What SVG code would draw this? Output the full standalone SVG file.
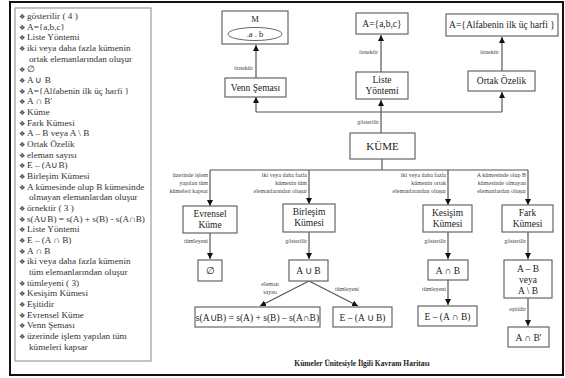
<svg xmlns="http://www.w3.org/2000/svg" width="565" height="378" viewBox="0 0 565 378">
<defs>
<marker id="ah" markerWidth="6" markerHeight="6" refX="6" refY="3" orient="auto" markerUnits="userSpaceOnUse">
<path d="M0,0 L6,3 L0,6 z" fill="#111"/>
</marker>
<style>
.box{fill:#fff;stroke:#666;stroke-width:1.2}
.t{font-family:"Liberation Serif","Times New Roman",serif;font-size:9.5px;fill:#222;text-anchor:middle}
.lg{font-family:"Liberation Serif","Times New Roman",serif;font-size:9.2px;fill:#333}
.b{font-family:"DejaVu Sans",sans-serif;font-size:7px;fill:#444}
.lb{font-family:"Liberation Serif","Times New Roman",serif;font-size:6px;fill:#444;text-anchor:end}
.c{fill:none;stroke:#555;stroke-width:1.2}
.ca{fill:none;stroke:#555;stroke-width:1.2;marker-end:url(#ah)}
</style>
</defs>
<rect width="565" height="378" fill="#fff"/>
<rect x="10" y="2" width="553" height="373" fill="none" stroke="#111" stroke-width="2"/>

<g id="legend">
<rect x="15" y="8" width="136" height="353" fill="#fff" stroke="#888" stroke-width="1"/>
<g class="b">
<text x="19" y="19">❖</text><text x="19" y="30">❖</text><text x="19" y="40">❖</text><text x="19" y="51">❖</text>
<text x="19" y="72">❖</text><text x="19" y="83">❖</text><text x="19" y="94">❖</text><text x="19" y="104">❖</text>
<text x="19" y="115">❖</text><text x="19" y="126">❖</text><text x="19" y="136">❖</text><text x="19" y="147">❖</text>
<text x="19" y="158">❖</text><text x="19" y="168">❖</text><text x="19" y="179">❖</text><text x="19" y="190">❖</text>
<text x="19" y="211">❖</text><text x="19" y="222">❖</text><text x="19" y="232">❖</text><text x="19" y="243">❖</text>
<text x="19" y="254">❖</text><text x="19" y="264">❖</text><text x="19" y="286">❖</text><text x="19" y="296">❖</text>
<text x="19" y="307">❖</text><text x="19" y="318">❖</text><text x="19" y="328">❖</text><text x="19" y="339">❖</text>
</g>
<g class="lg">
<text x="27" y="19">gösterilir ( 4 )</text>
<text x="27" y="30">A={a,b,c}</text>
<text x="27" y="40">Liste Yöntemi</text>
<text x="27" y="51">iki veya daha fazla kümenin</text>
<text x="29" y="62">ortak elemanlarından oluşur</text>
<text x="27" y="72">∅</text>
<text x="27" y="83">A ∪ B</text>
<text x="27" y="94">A={Alfabenin ilk üç harfi }</text>
<text x="27" y="104">A ∩ B'</text>
<text x="27" y="115">Küme</text>
<text x="27" y="126">Fark Kümesi</text>
<text x="27" y="136">A – B veya A \ B</text>
<text x="27" y="147">Ortak Özelik</text>
<text x="27" y="158">eleman sayısı</text>
<text x="27" y="168">E – (A∪B)</text>
<text x="27" y="179">Birleşim Kümesi</text>
<text x="27" y="190">A kümesinde olup B kümesinde</text>
<text x="29" y="200">olmayan elemanlardan oluşur</text>
<text x="27" y="211">örnektir ( 3 )</text>
<text x="27" y="222">s(A∪B) = s(A) + s(B) - s(A∩B)</text>
<text x="27" y="232">Liste Yöntemi</text>
<text x="27" y="243">E –  (A ∩ B)</text>
<text x="27" y="254">A ∩ B</text>
<text x="27" y="264">iki veya daha fazla kümenin</text>
<text x="29" y="275">tüm elemanlarından oluşur</text>
<text x="27" y="286">tümleyeni ( 3)</text>
<text x="27" y="296">Kesişim Kümesi</text>
<text x="27" y="307">Eşitidir</text>
<text x="27" y="318">Evrensel Küme</text>
<text x="27" y="328">Venn Şeması</text>
<text x="27" y="339">üzerinde işlem yapılan  tüm</text>
<text x="29" y="350">kümeleri kapsar</text>
</g>
</g>

<g id="connectors">
<path class="ca" d="M256,78 V45"/>
<path class="ca" d="M381,72 V35"/>
<path class="ca" d="M502,71 V37"/>
<path class="c" d="M256,112 H502"/>
<path class="ca" d="M256,112 V97"/>
<path class="ca" d="M381,133 V100"/>
<path class="ca" d="M502,112 V92"/>
<path class="c" d="M382,159 V170 M210,170 H528"/>
<path class="ca" d="M210,170 V206"/>
<path class="ca" d="M309,170 V204"/>
<path class="ca" d="M448,170 V205"/>
<path class="ca" d="M528,170 V205"/>
<path class="ca" d="M210,233 V259"/>
<path class="ca" d="M309,232 V259"/>
<path class="ca" d="M448,232 V259"/>
<path class="ca" d="M528,232 V259"/>
<path class="ca" d="M309,281 L260,306"/>
<path class="ca" d="M309,281 L358,306"/>
<path class="ca" d="M448,280 V305"/>
<path class="ca" d="M528,298 V326"/>
<g class="lb">
<text x="253" y="70">örnektir</text>
<text x="378" y="54">örnektir</text>
<text x="499" y="54">örnektir</text>
<text x="379" y="124">gösterilir</text>
<text x="208" y="177">üzerinde işlem</text>
<text x="208" y="185">yapılan tüm</text>
<text x="208" y="193">kümeleri kapsar</text>
<text x="307" y="177">iki veya daha fazla</text>
<text x="307" y="185">kümenin tüm</text>
<text x="307" y="193">elemanlarından oluşur</text>
<text x="446" y="177">iki veya daha fazla</text>
<text x="446" y="185">kümenin ortak</text>
<text x="446" y="193">elemanlarından oluşur</text>
<text x="526" y="177">A kümesinde olup B</text>
<text x="526" y="185">kümesinde olmayan</text>
<text x="526" y="193">elemanlardan oluşur</text>
<text x="208" y="243">tümleyeni</text>
<text x="307" y="243">gösterilir</text>
<text x="446" y="243">gösterilir</text>
<text x="526" y="243">gösterilir</text>
<text x="270" y="286" style="text-anchor:middle">eleman</text>
<text x="270" y="294" style="text-anchor:middle">sayısı</text>
<text x="347" y="291" style="text-anchor:middle">tümleyeni</text>
<text x="446" y="291">tümleyeni</text>
<text x="526" y="311">eşitidir</text>
</g>
</g>

<g id="n-M"><rect class="box" x="222" y="11" width="66" height="33"/>
<text class="t" x="255" y="22" style="font-size:8.5px">M</text>
<ellipse cx="255" cy="34" rx="27" ry="6.5" fill="#fff" stroke="#666" stroke-width="1"/>
<text class="t" x="255" y="37" style="font-size:8.5px">.a . b</text></g>
<g id="n-venn"><rect class="box" x="225" y="78" width="61" height="19"/><text class="t" x="255.5" y="91">Venn Şeması</text></g>
<g id="n-abc"><rect class="box" x="356" y="13" width="52" height="21"/><text class="t" x="382" y="27">A={a,b,c}</text></g>
<g id="n-liste"><rect class="box" x="356" y="72" width="52" height="27"/><text class="t" x="382" y="83">Liste</text><text class="t" x="382" y="94">Yöntemi</text></g>
<g id="n-alfabe"><rect class="box" x="446" y="14" width="112" height="22"/><text class="t" x="502" y="28">A={Alfabenin ilk üç harfi }</text></g>
<g id="n-ortak"><rect class="box" x="468" y="71" width="67" height="20"/><text class="t" x="501.5" y="84">Ortak Özelik</text></g>
<g id="n-kume"><rect class="box" x="350" y="133" width="65" height="26"/><text class="t" x="382.5" y="150" style="font-size:11px">KÜME</text></g>
<g id="n-evrensel"><rect class="box" x="183" y="206" width="54" height="27"/><text class="t" x="210" y="217">Evrensel</text><text class="t" x="210" y="228">Küme</text></g>
<g id="n-birlesim"><rect class="box" x="283" y="204" width="52" height="28"/><text class="t" x="309" y="215">Birleşim</text><text class="t" x="309" y="226">Kümesi</text></g>
<g id="n-kesisim"><rect class="box" x="423" y="205" width="49" height="27"/><text class="t" x="447.5" y="216">Kesişim</text><text class="t" x="447.5" y="227">Kümesi</text></g>
<g id="n-fark"><rect class="box" x="502" y="205" width="51" height="27"/><text class="t" x="527.5" y="216">Fark</text><text class="t" x="527.5" y="227">Kümesi</text></g>
<g id="n-bos"><rect class="box" x="198" y="260" width="24" height="21"/><text class="t" x="210" y="274">∅</text></g>
<g id="n-birlesimgos"><rect class="box" x="289" y="260" width="39" height="21"/><text class="t" x="308.5" y="274">A ∪ B</text></g>
<g id="n-kesisimgos"><rect class="box" x="428" y="260" width="40" height="20"/><text class="t" x="448" y="274">A ∩ B</text></g>
<g id="n-farkgos"><rect class="box" x="504" y="260" width="48" height="38"/><text class="t" x="528" y="272">A – B</text><text class="t" x="528" y="283">veya</text><text class="t" x="528" y="294">A \ B</text></g>
<g id="n-formul"><rect class="box" x="195" y="307" width="125" height="20"/><text class="t" x="257.5" y="320.5">s(A∪B) = s(A) + s(B) – s(A∩B)</text></g>
<g id="n-tumbirlesim"><rect class="box" x="333" y="307" width="59" height="20"/><text class="t" x="362.5" y="320.5">E – (A ∪ B)</text></g>
<g id="n-tumkesisim"><rect class="box" x="418" y="306" width="59" height="20"/><text class="t" x="447.5" y="319.5">E – (A ∩ B)</text></g>
<g id="n-esit"><rect class="box" x="508" y="327" width="41" height="20"/><text class="t" x="528.5" y="340.5">A ∩ B'</text></g>

<text x="362" y="366" style="font-family:'Liberation Serif','Times New Roman',serif;font-size:7.5px;font-weight:bold;fill:#222;text-anchor:middle">Kümeler Ünitesiyle İlgili Kavram Haritası</text>
</svg>
